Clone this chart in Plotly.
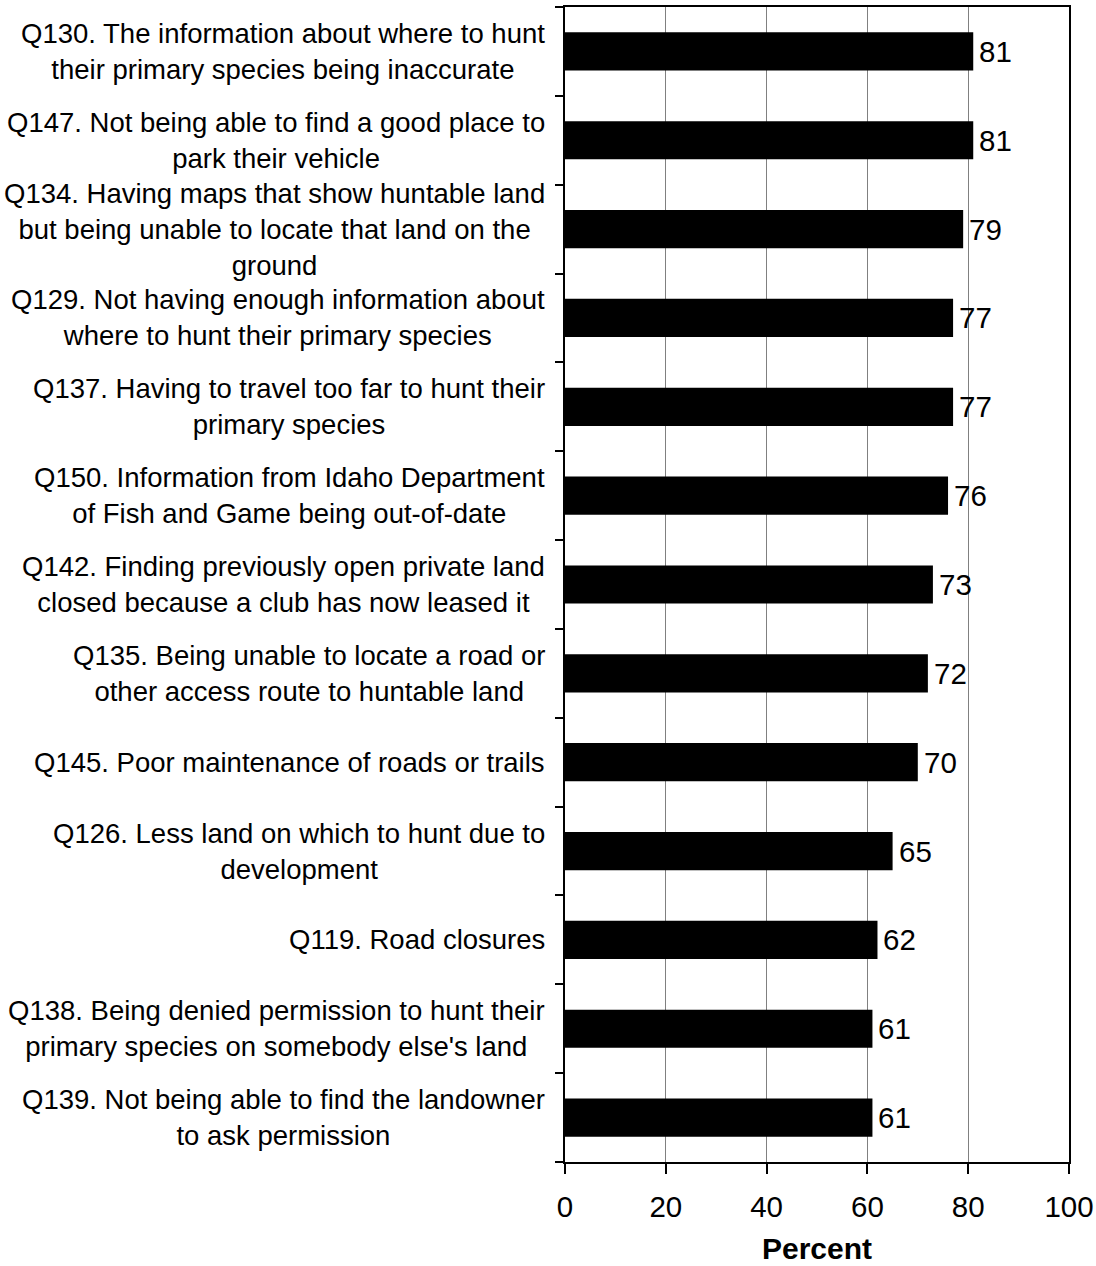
import plotly.graph_objects as go

categories = [
    "Q130. The information about where to hunt<br>their primary species being inaccurate",
    "Q147. Not being able to find a good place to<br>park their vehicle",
    "Q134. Having maps that show huntable land<br>but being unable to locate that land on the<br>ground",
    "Q129. Not having enough information about<br>where to hunt their primary species",
    "Q137. Having to travel too far to hunt their<br>primary species",
    "Q150. Information from Idaho Department<br>of Fish and Game being out-of-date",
    "Q142. Finding previously open private land<br>closed because a club has now leased it",
    "Q135. Being unable to locate a road or<br>other access route to huntable land",
    "Q145. Poor maintenance of roads or trails",
    "Q126. Less land on which to hunt due to<br>development",
    "Q119. Road closures",
    "Q138. Being denied permission to hunt their<br>primary species on somebody else's land",
    "Q139. Not being able to find the landowner<br>to ask permission",
]
values = [81, 81, 79, 77, 77, 76, 73, 72, 70, 65, 62, 61, 61]
x_ticks = [0, 20, 40, 60, 80, 100]
x_title = "Percent"

FONT = "Liberation Sans, Arial, sans-serif"
ids = list(range(len(categories)))

fig = go.Figure()
fig.add_trace(go.Bar(
    y=ids, x=values, orientation="h",
    marker=dict(color="black", line=dict(width=0)),
    width=0.43,
))

for i, v in zip(ids, values):
    fig.add_annotation(
        x=v, xref="x", y=i, yref="y", text=str(v), showarrow=False,
        xanchor="left", yanchor="middle", xshift=4,
        font=dict(family=FONT, size=29.5, color="black"),
    )

for i, c in enumerate(categories):
    fig.add_annotation(
        x=0, xref="paper", y=i, yref="y", text=c, showarrow=False,
        xanchor="right", yanchor="middle", align="center", xshift=-18,
        font=dict(family=FONT, size=27.5, color="black"),
    )

fig.add_annotation(
    x=0.5, xref="paper", y=0, yref="paper", text=f"<b>{x_title}</b>", showarrow=False,
    xanchor="center", yanchor="middle", yshift=-86,
    font=dict(family=FONT, size=30, color="black"),
)

fig.update_layout(
    width=1096, height=1266,
    margin=dict(l=565, r=27, t=7, b=104, autoexpand=False),
    plot_bgcolor="white", paper_bgcolor="white",
    showlegend=False,
    font=dict(family=FONT, color="black"),
    xaxis=dict(
        range=[0, 100], tickvals=x_ticks, ticktext=[str(t) for t in x_ticks],
        showgrid=True, gridcolor="#808080", gridwidth=1,
        ticks="outside", ticklen=10, tickcolor="black", tickwidth=1.5,
        showline=True, linecolor="black", linewidth=2, mirror=True,
        tickfont=dict(family=FONT, size=29.5), zeroline=False,
        ticklabelstandoff=8, automargin=False,
    ),
    yaxis=dict(
        range=[12.5, -0.5], tickvals=[i + 0.5 for i in range(-1, 13)], ticktext=[""] * 14,
        showgrid=False, ticks="outside", ticklen=8, tickcolor="black", tickwidth=1.5,
        showline=True, linecolor="black", linewidth=2, mirror=True,
        zeroline=False, automargin=False,
    ),
)

fig.write_html(
    "out.html",
    config={"displayModeBar": False},
    post_script="document.body.style.margin='0';document.body.style.overflow='hidden';",
)
